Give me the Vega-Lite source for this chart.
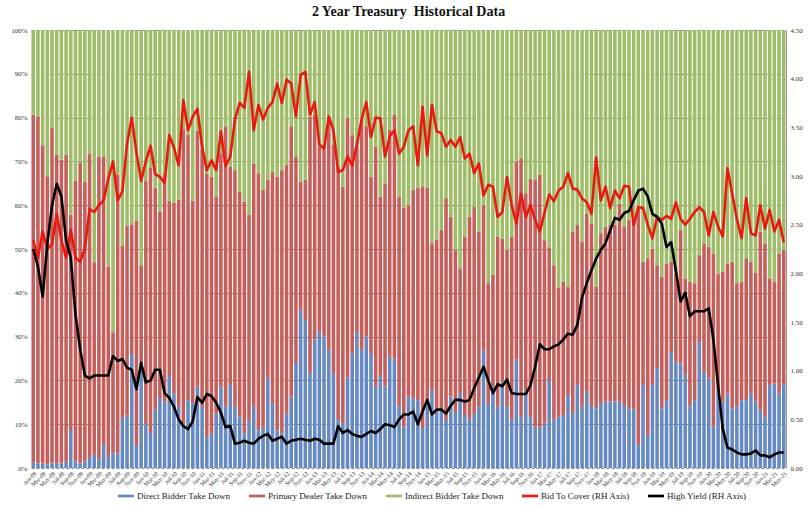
{
"$schema": "https://vega.github.io/schema/vega-lite/v6.json",
"width": 755, "height": 438,
"autosize": {"type": "none"},
"padding": {"left": 31, "top": 30, "right": 26, "bottom": 41},
"background": "white",
"title": {"text": "2 Year Treasury\u00a0 Historical Data", "font": "Liberation Serif", "fontSize": 14, "fontWeight": "bold", "color": "#111111", "anchor": "middle", "offset": 7},
"config": {"view": {"stroke": null}, "axis": {"labelFont": "Liberation Serif", "labelColor": "#333333"}},
"datasets": {
"series": [
{"key": "dir", "label": "Direct Bidder Take Down", "rank": 1},
{"key": "pri", "label": "Primary Dealer Take Down", "rank": 2},
{"key": "ind", "label": "Indirect Bidder Take Down", "rank": 3},
{"key": "btc", "label": "Bid To Cover (RH Axis)", "rank": 4},
{"key": "hy", "label": "High Yield (RH Axis)", "rank": 5}
],
"auctions": [
{"m":"Jan-08","dir":1.2,"pri":79.5,"ind":19.3,"btc":2.34,"hy":2.25},
{"m":"Feb-08","dir":1.0,"pri":79.3,"ind":19.7,"btc":2.16,"hy":2.07},
{"m":"Mar-08","dir":1.0,"pri":72.7,"ind":26.3,"btc":2.43,"hy":1.76},
{"m":"Apr-08","dir":0.8,"pri":65.8,"ind":33.4,"btc":2.25,"hy":2.30},
{"m":"May-08","dir":1.0,"pri":76.6,"ind":22.4,"btc":2.30,"hy":2.70},
{"m":"Jun-08","dir":1.2,"pri":70.3,"ind":28.5,"btc":2.61,"hy":2.92},
{"m":"Jul-08","dir":1.0,"pri":69.4,"ind":29.6,"btc":2.34,"hy":2.79},
{"m":"Aug-08","dir":1.5,"pri":70.0,"ind":28.5,"btc":2.16,"hy":2.34},
{"m":"Sep-08","dir":8.7,"pri":49.1,"ind":42.2,"btc":2.45,"hy":2.16},
{"m":"Oct-08","dir":1.5,"pri":64.0,"ind":34.5,"btc":2.16,"hy":1.58},
{"m":"Nov-08","dir":1.0,"pri":68.8,"ind":30.2,"btc":2.12,"hy":1.22},
{"m":"Dec-08","dir":1.5,"pri":63.8,"ind":34.7,"btc":2.25,"hy":0.95},
{"m":"Jan-09","dir":2.5,"pri":69.3,"ind":28.2,"btc":2.66,"hy":0.92},
{"m":"Feb-09","dir":3.0,"pri":44.0,"ind":53.0,"btc":2.63,"hy":0.95},
{"m":"Mar-09","dir":2.0,"pri":69.2,"ind":28.8,"btc":2.70,"hy":0.95},
{"m":"Apr-09","dir":5.5,"pri":65.5,"ind":29.0,"btc":2.75,"hy":0.95},
{"m":"May-09","dir":2.5,"pri":43.5,"ind":54.0,"btc":2.97,"hy":0.95},
{"m":"Jun-09","dir":3.5,"pri":27.5,"ind":69.0,"btc":3.15,"hy":1.15},
{"m":"Jul-09","dir":3.3,"pri":63.7,"ind":33.0,"btc":2.75,"hy":1.10},
{"m":"Aug-09","dir":11.5,"pri":39.3,"ind":49.2,"btc":2.84,"hy":1.12},
{"m":"Sep-09","dir":12.0,"pri":43.3,"ind":44.7,"btc":3.33,"hy":1.03},
{"m":"Oct-09","dir":26.0,"pri":29.5,"ind":44.5,"btc":3.60,"hy":1.01},
{"m":"Nov-09","dir":5.0,"pri":51.5,"ind":43.5,"btc":3.24,"hy":0.81},
{"m":"Dec-09","dir":24.0,"pri":22.3,"ind":53.7,"btc":2.95,"hy":1.08},
{"m":"Jan-10","dir":10.0,"pri":55.5,"ind":34.5,"btc":3.15,"hy":0.88},
{"m":"Feb-10","dir":8.0,"pri":60.5,"ind":31.5,"btc":3.31,"hy":0.90},
{"m":"Mar-10","dir":13.5,"pri":50.5,"ind":36.0,"btc":3.02,"hy":1.01},
{"m":"Apr-10","dir":16.0,"pri":42.5,"ind":41.5,"btc":2.99,"hy":1.01},
{"m":"May-10","dir":15.0,"pri":52.2,"ind":32.8,"btc":2.93,"hy":0.77},
{"m":"Jun-10","dir":21.0,"pri":40.0,"ind":39.0,"btc":3.42,"hy":0.72},
{"m":"Jul-10","dir":17.0,"pri":43.5,"ind":39.5,"btc":3.29,"hy":0.63},
{"m":"Aug-10","dir":14.0,"pri":47.3,"ind":38.7,"btc":3.11,"hy":0.50},
{"m":"Sep-10","dir":10.0,"pri":67.5,"ind":22.5,"btc":3.78,"hy":0.43},
{"m":"Oct-10","dir":15.5,"pri":60.5,"ind":24.0,"btc":3.47,"hy":0.40},
{"m":"Nov-10","dir":14.8,"pri":46.2,"ind":39.0,"btc":3.61,"hy":0.48},
{"m":"Dec-10","dir":18.6,"pri":58.4,"ind":23.0,"btc":3.69,"hy":0.73},
{"m":"Jan-11","dir":14.0,"pri":59.0,"ind":27.0,"btc":3.30,"hy":0.67},
{"m":"Feb-11","dir":7.2,"pri":60.1,"ind":32.7,"btc":3.06,"hy":0.76},
{"m":"Mar-11","dir":7.9,"pri":58.6,"ind":33.5,"btc":3.16,"hy":0.74},
{"m":"Apr-11","dir":12.4,"pri":49.6,"ind":38.0,"btc":3.06,"hy":0.67},
{"m":"May-11","dir":18.4,"pri":53.4,"ind":28.2,"btc":3.46,"hy":0.57},
{"m":"Jun-11","dir":14.0,"pri":64.0,"ind":22.0,"btc":3.10,"hy":0.42},
{"m":"Jul-11","dir":19.0,"pri":49.8,"ind":31.2,"btc":3.20,"hy":0.43},
{"m":"Aug-11","dir":14.0,"pri":54.0,"ind":32.0,"btc":3.58,"hy":0.25},
{"m":"Sep-11","dir":11.7,"pri":51.3,"ind":37.0,"btc":3.75,"hy":0.26},
{"m":"Oct-11","dir":7.9,"pri":52.9,"ind":39.2,"btc":3.70,"hy":0.28},
{"m":"Nov-11","dir":10.9,"pri":46.9,"ind":42.2,"btc":4.07,"hy":0.26},
{"m":"Dec-11","dir":14.0,"pri":55.5,"ind":30.5,"btc":3.47,"hy":0.25},
{"m":"Jan-12","dir":8.6,"pri":58.7,"ind":32.7,"btc":3.73,"hy":0.30},
{"m":"Feb-12","dir":9.4,"pri":54.1,"ind":36.5,"btc":3.58,"hy":0.33},
{"m":"Mar-12","dir":20.6,"pri":45.2,"ind":34.2,"btc":3.70,"hy":0.35},
{"m":"Apr-12","dir":14.8,"pri":52.8,"ind":32.4,"btc":3.76,"hy":0.28},
{"m":"May-12","dir":8.6,"pri":57.9,"ind":33.5,"btc":3.95,"hy":0.30},
{"m":"Jun-12","dir":7.9,"pri":60.1,"ind":32.0,"btc":3.75,"hy":0.32},
{"m":"Jul-12","dir":12.4,"pri":56.8,"ind":30.8,"btc":3.99,"hy":0.25},
{"m":"Aug-12","dir":16.3,"pri":61.7,"ind":22.0,"btc":3.95,"hy":0.28},
{"m":"Sep-12","dir":23.9,"pri":47.1,"ind":29.0,"btc":3.61,"hy":0.29},
{"m":"Oct-12","dir":36.0,"pri":29.4,"ind":34.6,"btc":4.04,"hy":0.30},
{"m":"Nov-12","dir":33.8,"pri":32.0,"ind":34.2,"btc":4.07,"hy":0.29},
{"m":"Dec-12","dir":21.6,"pri":58.6,"ind":19.8,"btc":3.63,"hy":0.28},
{"m":"Jan-13","dir":29.3,"pri":51.3,"ind":19.4,"btc":3.76,"hy":0.30},
{"m":"Feb-13","dir":31.2,"pri":42.2,"ind":26.6,"btc":3.32,"hy":0.29},
{"m":"Mar-13","dir":30.0,"pri":42.6,"ind":27.4,"btc":3.28,"hy":0.25},
{"m":"Apr-13","dir":27.0,"pri":53.2,"ind":19.8,"btc":3.61,"hy":0.25},
{"m":"May-13","dir":21.6,"pri":52.2,"ind":26.2,"btc":3.47,"hy":0.25},
{"m":"Jun-13","dir":10.9,"pri":57.9,"ind":31.2,"btc":3.04,"hy":0.43},
{"m":"Jul-13","dir":10.1,"pri":54.1,"ind":35.8,"btc":3.06,"hy":0.36},
{"m":"Aug-13","dir":20.6,"pri":59.4,"ind":20.0,"btc":3.20,"hy":0.39},
{"m":"Sep-13","dir":26.2,"pri":49.8,"ind":24.0,"btc":3.11,"hy":0.35},
{"m":"Oct-13","dir":30.8,"pri":42.6,"ind":26.6,"btc":3.32,"hy":0.33},
{"m":"Nov-13","dir":27.0,"pri":52.5,"ind":20.5,"btc":3.58,"hy":0.32},
{"m":"Dec-13","dir":30.0,"pri":48.0,"ind":22.0,"btc":3.76,"hy":0.35},
{"m":"Jan-14","dir":26.0,"pri":40.5,"ind":33.5,"btc":3.40,"hy":0.38},
{"m":"Feb-14","dir":18.6,"pri":54.8,"ind":26.6,"btc":3.60,"hy":0.36},
{"m":"Mar-14","dir":21.2,"pri":40.8,"ind":38.0,"btc":3.59,"hy":0.40},
{"m":"Apr-14","dir":18.6,"pri":46.4,"ind":35.0,"btc":3.20,"hy":0.45},
{"m":"May-14","dir":25.4,"pri":51.8,"ind":22.8,"btc":3.41,"hy":0.44},
{"m":"Jun-14","dir":24.7,"pri":55.9,"ind":19.4,"btc":3.47,"hy":0.42},
{"m":"Jul-14","dir":14.0,"pri":48.0,"ind":38.0,"btc":3.23,"hy":0.50},
{"m":"Aug-14","dir":9.4,"pri":50.1,"ind":40.5,"btc":3.30,"hy":0.55},
{"m":"Sep-14","dir":16.3,"pri":43.7,"ind":40.0,"btc":3.47,"hy":0.55},
{"m":"Oct-14","dir":15.9,"pri":47.6,"ind":36.5,"btc":3.51,"hy":0.58},
{"m":"Nov-14","dir":15.5,"pri":48.5,"ind":36.0,"btc":3.11,"hy":0.45},
{"m":"Dec-14","dir":9.1,"pri":55.2,"ind":35.7,"btc":3.71,"hy":0.58},
{"m":"Jan-15","dir":14.8,"pri":49.2,"ind":36.0,"btc":3.21,"hy":0.70},
{"m":"Feb-15","dir":17.8,"pri":33.5,"ind":48.7,"btc":3.73,"hy":0.55},
{"m":"Mar-15","dir":13.2,"pri":38.9,"ind":47.9,"btc":3.46,"hy":0.60},
{"m":"Apr-15","dir":13.2,"pri":41.2,"ind":45.6,"btc":3.44,"hy":0.60},
{"m":"May-15","dir":11.0,"pri":50.6,"ind":38.4,"btc":3.30,"hy":0.56},
{"m":"Jun-15","dir":16.3,"pri":41.1,"ind":42.6,"btc":3.37,"hy":0.64},
{"m":"Jul-15","dir":12.8,"pri":37.0,"ind":50.2,"btc":3.30,"hy":0.70},
{"m":"Aug-15","dir":17.1,"pri":28.5,"ind":54.4,"btc":3.40,"hy":0.70},
{"m":"Sep-15","dir":12.1,"pri":40.7,"ind":47.2,"btc":3.18,"hy":0.68},
{"m":"Oct-15","dir":11.0,"pri":46.4,"ind":42.6,"btc":3.23,"hy":0.70},
{"m":"Nov-15","dir":12.4,"pri":47.2,"ind":40.4,"btc":3.03,"hy":0.82},
{"m":"Dec-15","dir":14.0,"pri":40.0,"ind":46.0,"btc":3.13,"hy":0.93},
{"m":"Jan-16","dir":26.9,"pri":33.1,"ind":40.0,"btc":2.80,"hy":1.04},
{"m":"Feb-16","dir":14.8,"pri":27.4,"ind":57.8,"btc":2.91,"hy":0.90},
{"m":"Mar-16","dir":18.6,"pri":25.5,"ind":55.9,"btc":2.89,"hy":0.77},
{"m":"Apr-16","dir":14.0,"pri":38.8,"ind":47.2,"btc":2.58,"hy":0.86},
{"m":"May-16","dir":19.7,"pri":32.7,"ind":47.6,"btc":2.63,"hy":0.84},
{"m":"Jun-16","dir":14.0,"pri":35.8,"ind":50.2,"btc":2.99,"hy":0.91},
{"m":"Jul-16","dir":11.0,"pri":41.8,"ind":47.2,"btc":2.70,"hy":0.77},
{"m":"Aug-16","dir":24.7,"pri":45.3,"ind":30.0,"btc":2.51,"hy":0.76},
{"m":"Sep-16","dir":11.7,"pri":59.0,"ind":29.3,"btc":2.82,"hy":0.76},
{"m":"Oct-16","dir":17.8,"pri":44.9,"ind":37.3,"btc":2.58,"hy":0.76},
{"m":"Nov-16","dir":11.7,"pri":54.4,"ind":33.9,"btc":2.70,"hy":0.85},
{"m":"Dec-16","dir":9.4,"pri":56.4,"ind":34.2,"btc":2.55,"hy":1.04},
{"m":"Jan-17","dir":9.2,"pri":57.8,"ind":33.0,"btc":2.43,"hy":1.27},
{"m":"Feb-17","dir":10.2,"pri":41.8,"ind":48.0,"btc":2.62,"hy":1.22},
{"m":"Mar-17","dir":20.1,"pri":30.1,"ind":49.8,"btc":2.81,"hy":1.22},
{"m":"Apr-17","dir":11.0,"pri":35.3,"ind":53.7,"btc":2.74,"hy":1.25},
{"m":"May-17","dir":11.7,"pri":29.5,"ind":58.8,"btc":2.85,"hy":1.27},
{"m":"Jun-17","dir":12.1,"pri":30.4,"ind":57.5,"btc":2.89,"hy":1.32},
{"m":"Jul-17","dir":16.7,"pri":24.7,"ind":58.6,"btc":3.03,"hy":1.38},
{"m":"Aug-17","dir":12.6,"pri":41.4,"ind":46.0,"btc":2.87,"hy":1.37},
{"m":"Sep-17","dir":19.0,"pri":36.5,"ind":44.5,"btc":2.86,"hy":1.47},
{"m":"Oct-17","dir":14.0,"pri":37.7,"ind":48.3,"btc":2.77,"hy":1.75},
{"m":"Nov-17","dir":17.4,"pri":40.7,"ind":41.9,"btc":2.73,"hy":1.90},
{"m":"Dec-17","dir":14.4,"pri":41.5,"ind":44.1,"btc":2.61,"hy":2.03},
{"m":"Jan-18","dir":13.6,"pri":27.8,"ind":58.6,"btc":3.19,"hy":2.15},
{"m":"Feb-18","dir":14.8,"pri":38.8,"ind":46.4,"btc":2.75,"hy":2.24},
{"m":"Mar-18","dir":15.2,"pri":39.9,"ind":44.9,"btc":2.89,"hy":2.31},
{"m":"Apr-18","dir":15.2,"pri":40.3,"ind":44.5,"btc":2.67,"hy":2.44},
{"m":"May-18","dir":15.2,"pri":40.3,"ind":44.5,"btc":2.85,"hy":2.57},
{"m":"Jun-18","dir":15.2,"pri":45.2,"ind":39.6,"btc":2.77,"hy":2.55},
{"m":"Jul-18","dir":14.4,"pri":40.7,"ind":44.9,"btc":2.90,"hy":2.62},
{"m":"Aug-18","dir":13.6,"pri":43.0,"ind":43.4,"btc":2.89,"hy":2.64},
{"m":"Sep-18","dir":13.6,"pri":41.5,"ind":44.9,"btc":2.49,"hy":2.75},
{"m":"Oct-18","dir":5.3,"pri":54.4,"ind":40.3,"btc":2.68,"hy":2.85},
{"m":"Nov-18","dir":19.0,"pri":28.1,"ind":52.9,"btc":2.67,"hy":2.87},
{"m":"Dec-18","dir":7.5,"pri":40.4,"ind":52.1,"btc":2.50,"hy":2.79},
{"m":"Jan-19","dir":19.0,"pri":31.1,"ind":49.9,"btc":2.36,"hy":2.61},
{"m":"Feb-19","dir":22.8,"pri":23.5,"ind":53.7,"btc":2.58,"hy":2.58},
{"m":"Mar-19","dir":13.6,"pri":30.1,"ind":56.3,"btc":2.55,"hy":2.51},
{"m":"Apr-19","dir":15.5,"pri":31.2,"ind":53.3,"btc":2.59,"hy":2.27},
{"m":"May-19","dir":26.5,"pri":20.6,"ind":52.9,"btc":2.56,"hy":2.32},
{"m":"Jun-19","dir":24.3,"pri":20.1,"ind":55.6,"btc":2.73,"hy":2.03},
{"m":"Jul-19","dir":23.9,"pri":30.5,"ind":45.6,"btc":2.56,"hy":1.71},
{"m":"Aug-19","dir":21.2,"pri":22.1,"ind":56.7,"btc":2.50,"hy":1.80},
{"m":"Sep-19","dir":14.0,"pri":28.5,"ind":57.5,"btc":2.56,"hy":1.56},
{"m":"Oct-19","dir":15.5,"pri":26.7,"ind":57.8,"btc":2.63,"hy":1.61},
{"m":"Nov-19","dir":28.8,"pri":19.8,"ind":51.4,"btc":2.68,"hy":1.61},
{"m":"Dec-19","dir":22.0,"pri":29.3,"ind":48.7,"btc":2.63,"hy":1.61},
{"m":"Jan-20","dir":20.5,"pri":30.0,"ind":49.5,"btc":2.39,"hy":1.64},
{"m":"Feb-20","dir":9.4,"pri":39.6,"ind":51.0,"btc":2.63,"hy":1.32},
{"m":"Mar-20","dir":17.4,"pri":27.0,"ind":55.6,"btc":2.48,"hy":0.85},
{"m":"Apr-20","dir":15.2,"pri":29.6,"ind":55.2,"btc":2.38,"hy":0.40},
{"m":"May-20","dir":17.0,"pri":29.7,"ind":53.3,"btc":3.08,"hy":0.21},
{"m":"Jun-20","dir":13.6,"pri":33.5,"ind":52.9,"btc":2.82,"hy":0.19},
{"m":"Jul-20","dir":14.0,"pri":28.2,"ind":57.8,"btc":2.56,"hy":0.16},
{"m":"Aug-20","dir":15.5,"pri":27.0,"ind":57.5,"btc":2.36,"hy":0.14},
{"m":"Sep-20","dir":15.5,"pri":32.4,"ind":52.1,"btc":2.77,"hy":0.14},
{"m":"Oct-20","dir":17.0,"pri":30.1,"ind":52.9,"btc":2.41,"hy":0.15},
{"m":"Nov-20","dir":15.2,"pri":29.3,"ind":55.5,"btc":2.39,"hy":0.18},
{"m":"Dec-20","dir":13.2,"pri":40.8,"ind":46.0,"btc":2.70,"hy":0.13},
{"m":"Jan-21","dir":11.7,"pri":39.6,"ind":48.7,"btc":2.46,"hy":0.13},
{"m":"Feb-21","dir":19.0,"pri":24.3,"ind":56.7,"btc":2.65,"hy":0.11},
{"m":"Mar-21","dir":19.3,"pri":23.2,"ind":57.5,"btc":2.43,"hy":0.14},
{"m":"Apr-21","dir":17.0,"pri":32.0,"ind":51.0,"btc":2.55,"hy":0.16},
{"m":"May-21","dir":19.0,"pri":30.8,"ind":50.2,"btc":2.32,"hy":0.16}
]
},
"data": {"name": "auctions"},
"encoding": {
  "x": {"field": "m", "type": "ordinal", "sort": null,
        "scale": {"paddingInner": 0.24, "paddingOuter": 0.1},
        "axis": {"title": null, "labelAngle": -45, "labelFontSize": 6, "ticks": false, "domain": false, "labelOverlap": false, "labelPadding": 2,
                 "labelExpr": "test(/^(Jan|Mar|May|Jul|Sep|Nov)/, datum.label) ? datum.label : ''"}}
},
"layer": [
  {
    "transform": [
      {"fold": ["dir", "pri", "ind"], "as": ["key", "pct"]},
      {"lookup": "key", "from": {"data": {"name": "series"}, "key": "key", "fields": ["label", "rank"]}}
    ],
    "mark": {"type": "bar"},
    "encoding": {
      "y": {"field": "pct", "type": "quantitative", "stack": "zero",
            "scale": {"domain": [0, 100], "nice": false},
            "axis": {"orient": "left", "title": null, "values": [0,10,20,30,40,50,60,70,80,90,100],
                     "labelExpr": "datum.value + '%'", "labelFontSize": 7, "labelPadding": 4,
                     "grid": true, "gridDash": [3, 2], "gridColor": "#555555", "gridWidth": 0.7,
                     "domain": false, "ticks": false}},
      "color": {"field": "label", "type": "nominal",
                "scale": {"domain": ["Direct Bidder Take Down", "Primary Dealer Take Down", "Indirect Bidder Take Down", "Bid To Cover (RH Axis)", "High Yield (RH Axis)"],
                          "range": ["#6589C0", "#C55F5C", "#9FBD68", "#E8190F", "#000000"]},
                "legend": {"orient": "none", "legendX": 87, "legendY": 458, "direction": "horizontal", "title": null,
                           "symbolType": "M-1,-0.17H1V0.17H-1Z", "symbolSize": 256, "symbolStrokeWidth": 0,
                           "labelFont": "Liberation Serif", "labelFontSize": 9, "labelColor": "#222222",
                           "columnPadding": 18, "labelOffset": 3}},
      "order": {"field": "rank", "type": "quantitative", "sort": "ascending"}
    }
  },
  {
    "transform": [
      {"fold": ["btc", "hy"], "as": ["key", "val"]},
      {"lookup": "key", "from": {"data": {"name": "series"}, "key": "key", "fields": ["label", "rank"]}}
    ],
    "encoding": {
      "y": {"field": "val", "type": "quantitative",
            "scale": {"domain": [0, 4.5], "nice": false},
            "axis": {"orient": "right", "title": null, "values": [0,0.5,1,1.5,2,2.5,3,3.5,4,4.5], "format": ".2f",
                     "labelFontSize": 7, "labelPadding": 4, "grid": false, "domain": true, "domainColor": "#999999", "ticks": false}},
      "color": {"field": "label", "type": "nominal"}
    },
    "layer": [
      {"transform": [{"filter": {"field": "key", "equal": "btc"}}],
       "mark": {"type": "line", "strokeWidth": 2.6, "strokeJoin": "round"}},
      {"transform": [{"filter": {"field": "key", "equal": "hy"}}],
       "mark": {"type": "line", "strokeWidth": 2.6, "strokeJoin": "round"}}
    ]
  }
],
"resolve": {"scale": {"y": "independent"}}
}
